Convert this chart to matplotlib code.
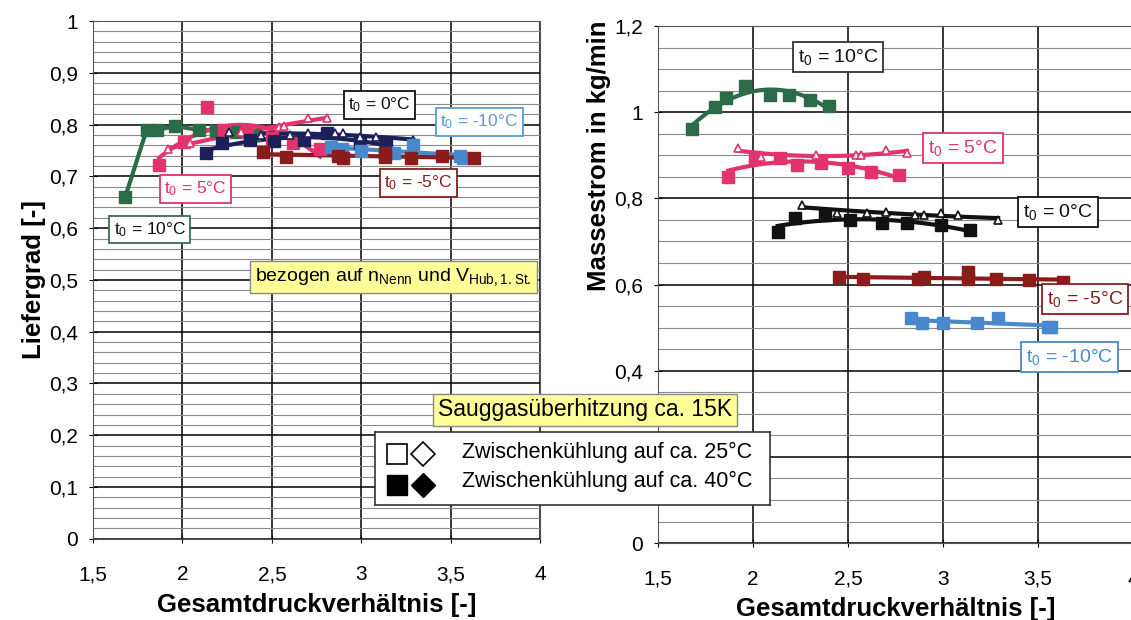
import numpy as np
import matplotlib
matplotlib.use('Agg')
import matplotlib.pyplot as plt
from matplotlib.ticker import MultipleLocator, FuncFormatter

plt.rcParams['font.family'] = ['Liberation Sans', 'DejaVu Sans']
plt.rcParams['mathtext.default'] = 'regular'

# Messpunkte: Gesamtdruckverhaeltnis, Liefergrad, Massestrom [kg/min]
# t0 = 10 C (Zwischenkuehlung 40 C)
x_p10 = [1.68, 1.80, 1.86, 1.96, 2.09, 2.19, 2.30, 2.40]
lf_p10 = [0.660, 0.790, 0.790, 0.797, 0.790, 0.788, 0.785, 0.780]
ms_p10 = [0.962, 1.013, 1.032, 1.060, 1.040, 1.040, 1.028, 1.015]

# t0 = 5 C
x_p5_40 = [1.87, 2.01, 2.14, 2.23, 2.36, 2.50, 2.62, 2.77]
lf_p5_40 = [0.722, 0.767, 0.835, 0.790, 0.785, 0.775, 0.765, 0.752]
ms_p5_40 = [0.850, 0.897, 0.893, 0.878, 0.882, 0.870, 0.861, 0.854]
x_p5_25 = [1.92, 2.04, 2.33, 2.54, 2.57, 2.70, 2.81]
lf_p5_25 = [0.752, 0.765, 0.785, 0.795, 0.797, 0.812, 0.812]
ms_p5_25 = [0.917, 0.896, 0.900, 0.900, 0.900, 0.912, 0.905]

# t0 = 0 C
x_0_40 = [2.13, 2.22, 2.38, 2.51, 2.68, 2.81, 2.99, 3.14]
lf_0_40 = [0.745, 0.765, 0.770, 0.768, 0.770, 0.783, 0.765, 0.760]
ms_0_40 = [0.722, 0.754, 0.761, 0.750, 0.742, 0.742, 0.738, 0.727]
x_0_25 = [2.26, 2.44, 2.60, 2.70, 2.85, 2.90, 2.99, 3.08, 3.29]
lf_0_25 = [0.785, 0.780, 0.780, 0.783, 0.783, 0.783, 0.777, 0.777, 0.770]
ms_0_25 = [0.785, 0.766, 0.766, 0.768, 0.761, 0.761, 0.766, 0.761, 0.750]

# t0 = -5 C
x_m5 = [2.45, 2.58, 2.87, 2.90, 3.13, 3.13, 3.28, 3.45, 3.63]
lf_m5 = [0.748, 0.738, 0.740, 0.735, 0.745, 0.738, 0.735, 0.739, 0.735]
ms_m5 = [0.617, 0.613, 0.613, 0.617, 0.629, 0.613, 0.613, 0.611, 0.606]

# t0 = -10 C
x_m10 = [2.83, 2.89, 3.00, 3.18, 3.29, 3.55, 3.57]
lf_m10 = [0.757, 0.752, 0.750, 0.746, 0.761, 0.740, 0.735]
ms_m10 = [0.522, 0.511, 0.511, 0.511, 0.522, 0.502, 0.502]

c_green = '#2b6b48'
c_pink = '#e2336a'
c_navy = '#1c1f5a'
c_black = '#111111'
c_red = '#8a1c1c'
c_blue = '#4a88cc'

comma = FuncFormatter(lambda v, p: ('%g' % round(v, 3)).replace('.', ','))


def trend(ax, x, y, color, deg=2):
    xs = np.linspace(min(x), max(x), 100)
    ax.plot(xs, np.polyval(np.polyfit(x, y, deg), xs), color=color, lw=3, zorder=3)


def pts(ax, x, y, color, filled=True):
    if filled:
        ax.plot(x, y, 's', color=color, ms=8.5, zorder=4)
    else:
        ax.plot(x, y, '^', mfc='white', mec=color, mew=1.2, ms=6, zorder=4)


def label(ax, x, y, txt, tcolor, ecolor, fs=12.5):
    ax.text(x, y, txt, color=tcolor, fontsize=fs, ha='center', va='center', zorder=6,
            clip_on=False, bbox=dict(boxstyle='square,pad=0.25', fc='white', ec=ecolor, lw=1.3))


def setup(ax, ylim, major, minor):
    ax.set_xlim(1.5, 4)
    ax.set_ylim(*ylim)
    ax.xaxis.set_major_locator(MultipleLocator(0.5))
    ax.yaxis.set_major_locator(MultipleLocator(major))
    ax.yaxis.set_minor_locator(MultipleLocator(minor))
    ax.xaxis.set_major_formatter(comma)
    ax.yaxis.set_major_formatter(comma)
    ax.grid(which='major', color='black', lw=1.1)
    ax.grid(which='minor', axis='y', color='#8a8a8a', lw=0.8)
    ax.set_axisbelow(True)
    ax.tick_params(which='both', direction='inout', length=6, labelsize=15)
    ax.tick_params(axis='x', pad=16)
    ax.tick_params(axis='y', pad=8)
    ax.tick_params(which='minor', length=0)
    for s in ax.spines.values():
        s.set_color('#555555')
    ax.set_xlabel('Gesamtdruckverhältnis [-]', fontsize=18.5, fontweight='bold', labelpad=6)


fig = plt.figure(figsize=(11.31, 6.2), dpi=100)
ax1 = fig.add_axes([0.0822, 0.131, 0.3955, 0.835])
ax2 = fig.add_axes([0.5818, 0.124, 0.4200, 0.834])

# Liefergrad
setup(ax1, (0, 1), 0.1, 0.02)
ax1.set_ylabel('Liefergrad [-]', fontsize=18.5, fontweight='bold', labelpad=2)
ax1.plot(x_p10, lf_p10, color=c_green, lw=3, zorder=3)
pts(ax1, x_p10, lf_p10, c_green)
trend(ax1, x_p5_40, lf_p5_40, c_pink)
trend(ax1, x_p5_25, lf_p5_25, c_pink)
pts(ax1, x_p5_40, lf_p5_40, c_pink)
pts(ax1, x_p5_25, lf_p5_25, c_pink, False)
trend(ax1, x_0_40, lf_0_40, c_navy)
trend(ax1, x_0_25, lf_0_25, c_navy)
pts(ax1, x_0_40, lf_0_40, c_navy)
pts(ax1, x_0_25, lf_0_25, c_navy, False)
trend(ax1, x_m10, lf_m10, c_blue, 1)
pts(ax1, x_m10, lf_m10, c_blue)
trend(ax1, x_m5, lf_m5, c_red, 1)
pts(ax1, x_m5, lf_m5, c_red)

label(ax1, 1.817, 0.598, '$t_0$ = 10°C', c_black, '#3f6b50')
label(ax1, 2.072, 0.676, '$t_0$ = 5°C', c_pink, c_pink)
label(ax1, 3.10, 0.838, '$t_0$ = 0°C', c_black, c_black)
label(ax1, 3.66, 0.805, '$t_0$ = -10°C', '#5b9bd5', '#5b9bd5')
label(ax1, 3.317, 0.687, '$t_0$ = -5°C', c_red, c_red)
ax1.text(3.18, 0.506, 'bezogen auf n$_{Nenn}$ und V$_{Hub,1.St.}$', fontsize=14,
         ha='center', va='center', zorder=6,
         bbox=dict(boxstyle='square,pad=0.25', fc='#ffff99', ec='#888888', lw=1))

# Massestrom
setup(ax2, (0, 1.2), 0.2, 0.05)
ax2.set_ylabel('Massestrom in kg/min', fontsize=18.5, fontweight='bold', labelpad=2, y=0.75)
trend(ax2, x_p10, ms_p10, c_green)
pts(ax2, x_p10, ms_p10, c_green)
trend(ax2, x_p5_40, ms_p5_40, c_pink)
trend(ax2, x_p5_25, ms_p5_25, c_pink)
pts(ax2, x_p5_40, ms_p5_40, c_pink)
pts(ax2, x_p5_25, ms_p5_25, c_pink, False)
trend(ax2, x_0_40, ms_0_40, c_black)
trend(ax2, x_0_25, ms_0_25, c_black)
pts(ax2, x_0_40, ms_0_40, c_black)
pts(ax2, x_0_25, ms_0_25, c_black, False)
trend(ax2, x_m5, ms_m5, c_red, 1)
pts(ax2, x_m5, ms_m5, c_red)
trend(ax2, x_m10, ms_m10, c_blue, 1)
pts(ax2, x_m10, ms_m10, c_blue)

label(ax2, 2.447, 1.128, '$t_0$ = 10°C', c_black, '#333333', 14)
label(ax2, 3.105, 0.917, '$t_0$ = 5°C', c_pink, c_pink, 14)
label(ax2, 3.605, 0.768, '$t_0$ = 0°C', c_black, c_black, 14)
label(ax2, 3.747, 0.566, '$t_0$ = -5°C', c_red, c_red, 14)
label(ax2, 3.668, 0.432, '$t_0$ = -10°C', c_blue, c_blue, 14)

# gemeinsame Beschriftung
fig.text(0.5172, 0.339, 'Sauggasüberhitzung ca. 15K', fontsize=16.5, ha='center', va='center',
         zorder=10, bbox=dict(boxstyle='square,pad=0.2', fc='#ffff99', ec='#888888', lw=1))

lg = fig.add_axes([0.3316, 0.1855, 0.3492, 0.117], zorder=9)
lg.set_xlim(0, 1)
lg.set_ylim(0, 1)
lg.set_xticks([])
lg.set_yticks([])
for s in lg.spines.values():
    s.set_color('#333333')
    s.set_linewidth(1.2)
lg.plot([0.056], [0.70], 's', mfc='white', mec='black', mew=1.2, ms=14)
lg.plot([0.122], [0.70], 'D', mfc='white', mec='black', mew=1.2, ms=12)
lg.plot([0.056], [0.27], 's', color='black', ms=14)
lg.plot([0.122], [0.27], 'D', color='black', ms=12)
lg.text(0.22, 0.72, 'Zwischenkühlung auf ca. 25°C', fontsize=15.5, va='center')
lg.text(0.22, 0.33, 'Zwischenkühlung auf ca. 40°C', fontsize=15.5, va='center')

fig.savefig('out.png', dpi=100)
